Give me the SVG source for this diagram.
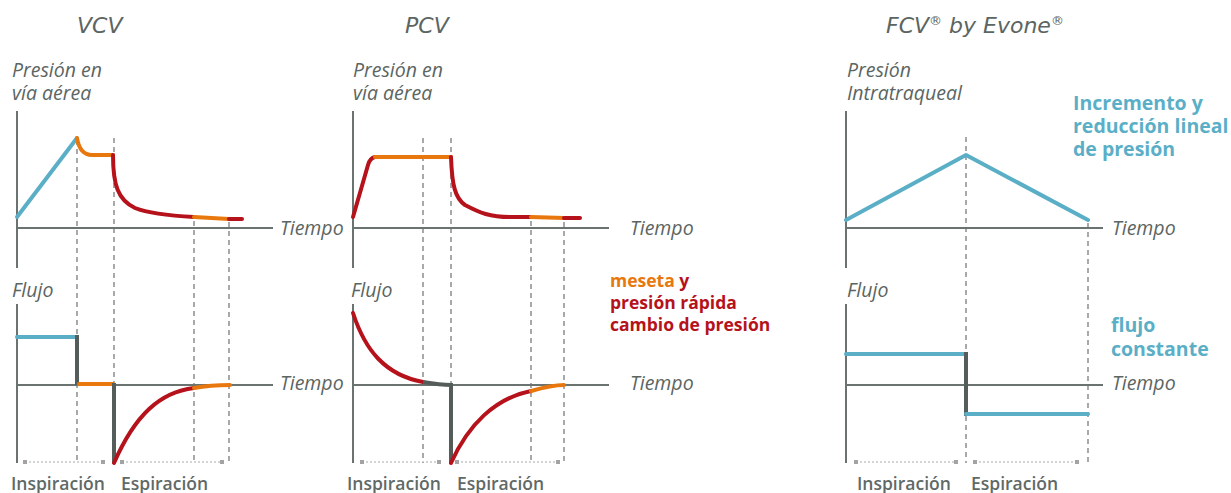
<svg xmlns="http://www.w3.org/2000/svg" width="1231" height="493" viewBox="0 0 1231 493">
<style>
.title{font-family:"DejaVu Sans",sans-serif;font-style:oblique;font-size:22px;fill:#5b6562}
.lab{font-family:"Open Sans",sans-serif;font-style:italic;font-size:19.5px;fill:#5b6562;font-weight:400}
.phase{font-family:"Open Sans",sans-serif;font-weight:600;font-size:17.5px;fill:#5f6966}
.note{font-family:"Open Sans",sans-serif;font-weight:700;font-size:17.5px}
.blueT{font-family:"Open Sans",sans-serif;font-weight:700;font-size:19.5px;fill:#5aafc7}
.axis{stroke:#6b7370;stroke-width:2;fill:none}
.dash{stroke:#6b7370;stroke-width:1.2;stroke-dasharray:5,4;fill:none}
.brk{stroke:#a9a9a9;stroke-width:1.2;stroke-dasharray:2,2;fill:none}
.sq{fill:#a3a3a3}
.blue{stroke:#5aafc7;stroke-width:4;fill:none;stroke-linecap:round;stroke-linejoin:round}
.org{stroke:#e8780e;stroke-width:4;fill:none;stroke-linecap:round}
.red{stroke:#b5121b;stroke-width:4;fill:none;stroke-linecap:round;stroke-linejoin:round}
.step{stroke:#555d5b;stroke-width:4;fill:none}
</style>

<g id="titles">
<text class="title" x="77" y="33">VCV</text>
<text class="title" x="405" y="33">PCV</text>
<text class="title" x="886" y="33">FCV<tspan font-size="13" dy="-8">®</tspan><tspan dy="8"> by Evone</tspan><tspan font-size="13" dy="-8">®</tspan></text>
</g>

<g id="axes">
<line class="axis" x1="17" y1="111" x2="17" y2="268"/>
<line class="axis" x1="17" y1="228" x2="273" y2="228"/>
<line class="axis" x1="17" y1="304" x2="17" y2="463"/>
<line class="axis" x1="17" y1="385" x2="273" y2="385"/>
<line class="axis" x1="353" y1="111" x2="353" y2="268"/>
<line class="axis" x1="353" y1="228" x2="609" y2="228"/>
<line class="axis" x1="353" y1="304" x2="353" y2="463"/>
<line class="axis" x1="353" y1="385" x2="609" y2="385"/>
<line class="axis" x1="846" y1="111" x2="846" y2="268"/>
<line class="axis" x1="846" y1="228" x2="1103" y2="228"/>
<line class="axis" x1="846" y1="304" x2="846" y2="463"/>
<line class="axis" x1="846" y1="385" x2="1103" y2="385"/>
</g>

<g id="axis-labels">
<text class="lab" x="12" y="77">Presión en</text>
<text class="lab" x="12" y="100">vía aérea</text>
<text class="lab" x="280" y="235">Tiempo</text>
<text class="lab" x="12" y="297">Flujo</text>
<text class="lab" x="280" y="390">Tiempo</text>
<text class="lab" x="353" y="77">Presión en</text>
<text class="lab" x="353" y="100">vía aérea</text>
<text class="lab" x="630" y="235">Tiempo</text>
<text class="lab" x="351" y="297">Flujo</text>
<text class="lab" x="630" y="390">Tiempo</text>
<text class="lab" x="847" y="77">Presión</text>
<text class="lab" x="847" y="100">Intratraqueal</text>
<text class="lab" x="1112" y="235">Tiempo</text>
<text class="lab" x="847" y="297">Flujo</text>
<text class="lab" x="1112" y="390">Tiempo</text>
</g>

<g id="dashes">
<line class="dash" x1="77" y1="140" x2="77" y2="463"/>
<line class="dash" x1="114" y1="138" x2="114" y2="463"/>
<line class="dash" x1="194" y1="221" x2="194" y2="463"/>
<line class="dash" x1="229" y1="222" x2="229" y2="463"/>
<line class="dash" x1="423" y1="138" x2="423" y2="463"/>
<line class="dash" x1="451" y1="138" x2="451" y2="463"/>
<line class="dash" x1="531" y1="221" x2="531" y2="463"/>
<line class="dash" x1="564" y1="222" x2="564" y2="463"/>
<line class="dash" x1="966" y1="137" x2="966" y2="463"/>
<line class="dash" x1="1088" y1="223" x2="1088" y2="463"/>
</g>

<g id="brackets">
<line class="brk" x1="25" y1="462" x2="103" y2="462"/>
<rect class="sq" x="23" y="460" width="4" height="4"/><rect class="sq" x="101" y="460" width="4" height="4"/>
<line class="brk" x1="122" y1="462" x2="222" y2="462"/>
<rect class="sq" x="120" y="460" width="4" height="4"/><rect class="sq" x="220" y="460" width="4" height="4"/>
<line class="brk" x1="362" y1="462" x2="439" y2="462"/>
<rect class="sq" x="360" y="460" width="4" height="4"/><rect class="sq" x="437" y="460" width="4" height="4"/>
<line class="brk" x1="457" y1="462" x2="558" y2="462"/>
<rect class="sq" x="455" y="460" width="4" height="4"/><rect class="sq" x="556" y="460" width="4" height="4"/>
<line class="brk" x1="856" y1="462" x2="956" y2="462"/>
<rect class="sq" x="854" y="460" width="4" height="4"/><rect class="sq" x="954" y="460" width="4" height="4"/>
<line class="brk" x1="975" y1="462" x2="1077" y2="462"/>
<rect class="sq" x="973" y="460" width="4" height="4"/><rect class="sq" x="1075" y="460" width="4" height="4"/>
</g>

<g id="phase-labels">
<text class="phase" x="11" y="490">Inspiración</text>
<text class="phase" x="121" y="490">Espiración</text>
<text class="phase" x="347" y="490">Inspiración</text>
<text class="phase" x="457" y="490">Espiración</text>
<text class="phase" x="857" y="490">Inspiración</text>
<text class="phase" x="971" y="490">Espiración</text>
</g>

<g id="vcv-curves">
<path class="blue" d="M17,217 L77,138"/>
<path class="org" d="M77,138 C79,150 85,155 92,155 L113,155"/>
<path class="red" d="M113,155 C113,185 118,200 135,208 C150,214 175,216 194,217"/>
<path class="org" d="M194,217 L229,219"/>
<path class="red" d="M229,219 L242,219"/>
<path class="blue" d="M17,337 L77,337"/>
<path class="step" d="M77,335 L77,385"/>
<path class="org" d="M79,384 L113,384"/>
<path class="step" d="M114,383 L114,463"/>
<path class="red" d="M114,463 C135,415 160,392 194,388"/>
<path class="org" d="M194,388 C205,386 218,385 230,385"/>
</g>

<g id="pcv-curves">
<path class="red" d="M353,217 L368,165 Q370,158 375,157"/>
<path class="org" d="M375,157 L451,157"/>
<path class="red" d="M451,157 C452,185 455,198 465,205 C480,213 490,217 510,217 L531,217"/>
<path class="org" d="M531,217 L564,218"/>
<path class="red" d="M564,218 L580,218"/>
<path class="red" d="M353,313 C365,350 385,375 423,382"/>
<path class="step" d="M423,382 C435,384 445,385 451,385 L451,463"/>
<path class="red" d="M451,463 C468,425 495,398 531,391"/>
<path class="org" d="M531,391 C545,387 555,385 564,385"/>
</g>

<g id="fcv-curves">
<path class="blue" d="M846,220 L966,155 L1088,220"/>
<path class="blue" d="M846,354 L966,354"/>
<path class="step" d="M966,352 L966,416"/>
<path class="blue" d="M966,414 L1088,414"/>
</g>

<g id="notes">
<text class="note" x="610" y="287"><tspan fill="#e8780e">meseta</tspan><tspan fill="#b5121b"> y</tspan></text>
<text class="note" x="610" y="309" fill="#b5121b">presión rápida</text>
<text class="note" x="610" y="331" fill="#b5121b">cambio de presión</text>
<text class="blueT" x="1073" y="110">Incremento y</text>
<text class="blueT" x="1073" y="133">reducción lineal</text>
<text class="blueT" x="1073" y="156">de presión</text>
<text class="blueT" x="1111" y="332">flujo</text>
<text class="blueT" x="1111" y="356">constante</text>
</g>
</svg>
